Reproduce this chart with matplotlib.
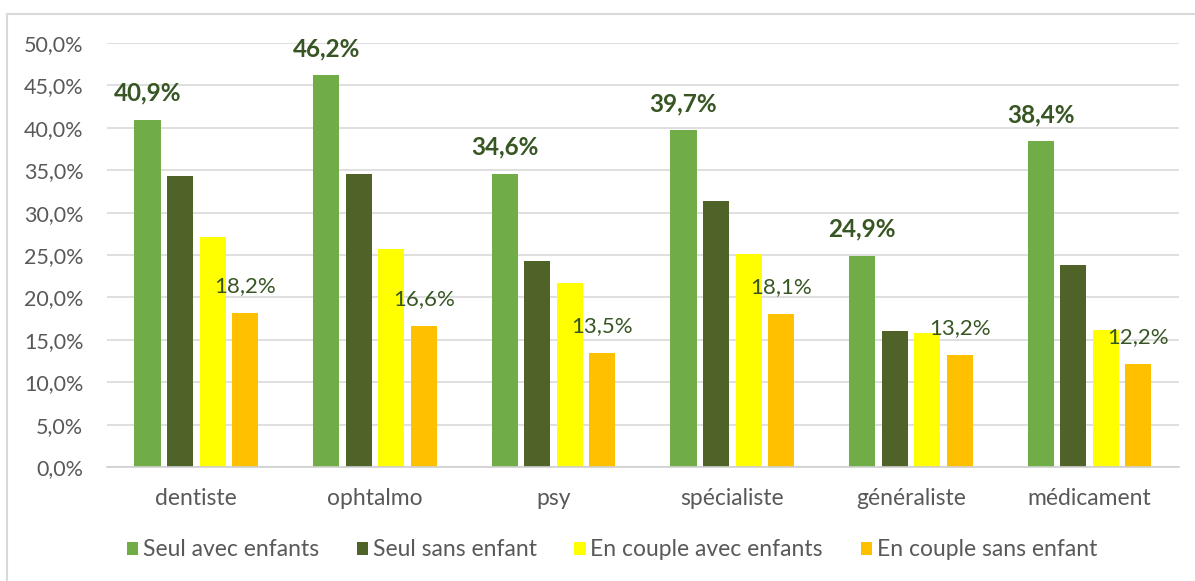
import numpy as np
import matplotlib.pyplot as plt
from matplotlib.patches import Rectangle

plt.rcParams['font.family'] = ['Lato', 'DejaVu Sans']

categories = ['dentiste', 'ophtalmo', 'psy', 'spécialiste', 'généraliste', 'médicament']
series_names = ['Seul avec enfants', 'Seul sans enfant', 'En couple avec enfants', 'En couple sans enfant']
seul_avec = [40.9, 46.2, 34.6, 39.7, 24.9, 38.4]
seul_sans = [34.3, 34.5, 24.3, 31.4, 16.0, 23.8]
couple_avec = [27.1, 25.7, 21.7, 25.1, 15.8, 16.2]
couple_sans = [18.2, 16.6, 13.5, 18.1, 13.2, 12.2]
colors = ['#70AD47', '#4F6228', '#FFFF00', '#FFC000']
label_color = '#375623'

fig = plt.figure(figsize=(11.95, 5.81), dpi=100)
ax = fig.add_axes([0.0895, 0.1962, 0.8971, 0.7298])

x = np.arange(len(categories))
step = 0.182
width = 0.146
all_series = [seul_avec, seul_sans, couple_avec, couple_sans]
bars = []
for i, (vals, col, name) in enumerate(zip(all_series, colors, series_names)):
    b = ax.bar(x + (i - 1.5) * step, vals, width, color=col, label=name, zorder=3)
    bars.append(b)

# labels on first (bold) and last series
for xi, v in zip(x, seul_avec):
    ax.annotate(f'{v:.1f}%'.replace('.', ','), (xi - 1.5 * step, v), xytext=(0, 11),
                textcoords='offset points', ha='center', va='bottom',
                fontsize=17.5, fontweight='bold', color=label_color)
for xi, v in zip(x, couple_sans):
    ax.annotate(f'{v:.1f}%'.replace('.', ','), (xi + 1.5 * step, v), xytext=(0, 12),
                textcoords='offset points', ha='center', va='bottom',
                fontsize=16, color=label_color)

ax.set_xlim(-0.5, 5.5)
ax.set_ylim(0, 50)
ax.set_yticks(np.arange(0, 50.1, 5))
ax.set_yticklabels([f'{t:.1f}%'.replace('.', ',') for t in np.arange(0, 50.1, 5)])
ax.set_xticks(x)
ax.set_xticklabels(categories)
ax.tick_params(axis='y', length=0, pad=17, labelsize=15.5, labelcolor='#595959')
ax.tick_params(axis='x', length=0, pad=15, labelsize=16.5, labelcolor='#595959')
ax.grid(axis='y', color='#D9D9D9', linewidth=1.2, zorder=0)
for s in ['top', 'right', 'left']:
    ax.spines[s].set_visible(False)
ax.spines['bottom'].set_color('#D0D0D0')
ax.spines['bottom'].set_linewidth(1.2)
ax.spines['bottom'].set_zorder(4)

fig.legend(handles=bars, labels=series_names, loc='center', bbox_to_anchor=(0.512, 1 - 550 / 581),
           ncol=4, frameon=False, fontsize=16.5, handlelength=0.5, handleheight=0.5,
           handletextpad=0.2, columnspacing=1.65, labelcolor='#595959')

fig.patches.append(Rectangle((7 / 1195, -0.1), 1.2, 1.1 - 14 / 581, transform=fig.transFigure,
                             fill=False, edgecolor='#D9D9D9', linewidth=1.5))

fig.savefig('out.png', dpi=100)
